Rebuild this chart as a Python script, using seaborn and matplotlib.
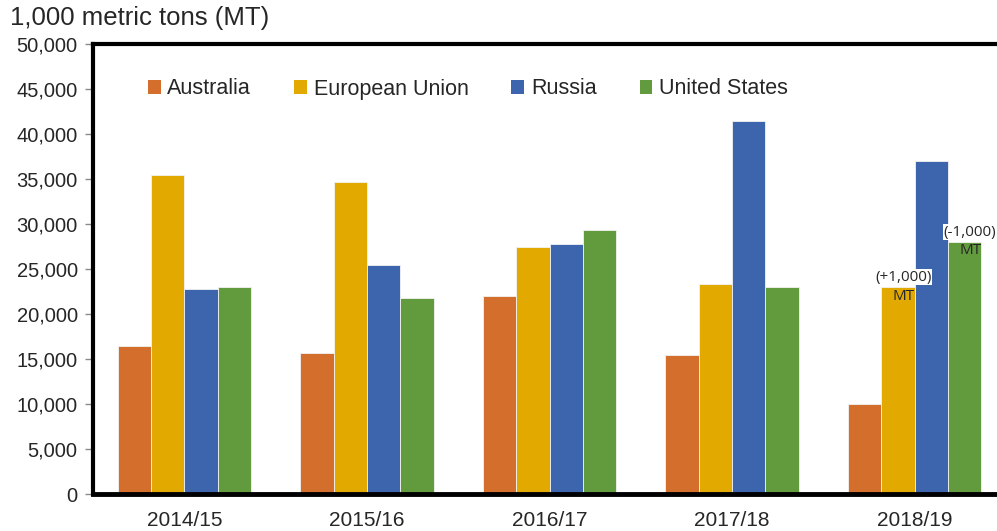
import numpy as np
import pandas as pd
import matplotlib
matplotlib.use("Agg")
import matplotlib.pyplot as plt
from matplotlib.patches import Patch
from matplotlib.ticker import FuncFormatter
import seaborn as sns

# data (1,000 MT)
years = ["2014/15", "2015/16", "2016/17", "2017/18", "2018/19"]
countries = ["Australia", "European Union", "Russia", "United States"]
australia = [16500, 15700, 22000, 15500, 10000]
eu = [35400, 34700, 27400, 23300, 23000]
russia = [22800, 25500, 27800, 41400, 37000]
us = [23000, 21800, 29300, 23000, 28000]
colors = ["#D46E2C", "#E2AA00", "#3D65AE", "#629A3E"]

# change notes on the 2018/19 bars
notes = ["(+1,000)", "(-1,000)"]
note_country = ["European Union", "United States"]

df = pd.DataFrame({
    "year": years * 4,
    "country": np.repeat(countries, len(years)),
    "value": australia + eu + russia + us,
})

sns.set_style("white")
plt.rcParams["font.family"] = ["Liberation Sans", "DejaVu Sans"]

fig = plt.figure(figsize=(9.97, 5.31), dpi=100)
ax = fig.add_axes([93 / 997, 1 - 494 / 531, (1006 - 93) / 997, 450 / 531])

sns.barplot(data=df, x="year", y="value", hue="country", hue_order=countries,
            order=years, palette=colors, width=0.73, saturation=1,
            edgecolor="#f2f2f2", linewidth=0.6, legend=False, ax=ax)

ax.axhline(0, color="#c0c0c0", lw=1, zorder=0.5)
ax.set_ylim(0, 50000)
ax.set_xlim(-0.5, 4.5)
ax.set_yticks(np.arange(0, 50001, 5000))
ax.yaxis.set_major_formatter(FuncFormatter(lambda v, p: f"{int(v):,}"))
ax.set_xlabel("")
ax.set_ylabel("")
ax.tick_params(axis="y", left=True, length=6, width=1, color="#8a8a8a",
               labelsize=14.5, pad=5, direction="out")
ax.tick_params(axis="x", bottom=False, labelsize=15, pad=9)

for side in ["left", "top", "bottom"]:
    ax.spines[side].set_visible(True)
    ax.spines[side].set_color("black")
    ax.spines[side].set_linewidth(3)
ax.spines["right"].set_visible(False)
ax.spines["bottom"].set_linewidth(3.5)

# notes above the 2018/19 bars
n = len(countries)
bw = 0.73 / n
for note, c in zip(notes, note_country):
    k = countries.index(c)
    xpos = 4 - 0.73 / 2 + bw * (k + 0.5)
    top = df[(df.year == "2018/19") & (df.country == c)]["value"].iloc[0]
    ax.text(xpos + 0.03, top + 1100, note, ha="center", va="center",
            fontsize=11, family=["Open Sans", "DejaVu Sans"],
            bbox=dict(facecolor="white", edgecolor="none", pad=0.5))
    ax.text(xpos + 0.03, top - 1000, "MT", ha="center", va="center",
            fontsize=11, family=["Open Sans", "DejaVu Sans"])

handles = [Patch(facecolor=col, edgecolor="none") for col in colors]
fig.legend(handles, countries, loc="center left",
           bbox_to_anchor=(148 / 997, 1 - 89 / 531), ncol=4, frameon=False,
           fontsize=15.5, handlelength=0.6, handleheight=0.6,
           handletextpad=0.3, columnspacing=2.0, borderpad=0, borderaxespad=0)

fig.text(10 / 997, 1 - 18 / 531, "1,000 metric tons (MT)", fontsize=18.5,
         ha="left", va="center")

fig.savefig("out.png", dpi=100)
